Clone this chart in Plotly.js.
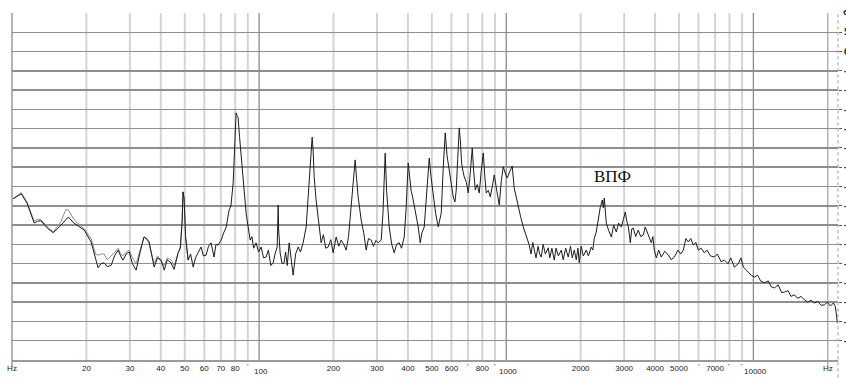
<!DOCTYPE html>
<html>
<head>
<meta charset="utf-8">
<script src="https://cdn.plot.ly/plotly-3.0.1.min.js"></script>
<style>html,body{margin:0;padding:0;background:#fff;}#chart{width:846px;height:378px;}</style>
</head>
<body>
<div id="chart"></div>
<script>
// Frequency (Hz) of the black measurement trace
const freqBlack = [
10.1,10.5,10.9,11.5,12.3,12.7,13.1,13.9,14.7,15.8,16.9,17.8,18.7,19.6,20.9,22.3,22.9,23.6,24.3,25.2,
26.0,26.9,27.5,28.1,29.0,29.8,30.7,31.8,33.0,34.2,35.0,35.9,36.7,37.6,38.8,40.1,41.3,42.5,44.0,45.3,
47.0,48.0,48.8,49.2,49.7,50.4,51.6,52.8,54.1,55.3,56.6,58.2,59.5,61.0,62.4,63.9,65.7,66.9,68.2,70.2,
71.9,73.6,75.6,76.9,78.5,79.6,80.7,81.5,82.2,83.3,84.6,85.8,87.0,88.6,90.3,92.0,93.5,95.0,97.2,99.5,
101.9,104.2,106.7,109.0,111.5,114.0,116.0,118.3,119.0,119.4,119.9,121.6,123.8,126.2,128.0,130.0,132.3,134.5,137.3,140.5,
143.9,147.0,150.7,155.0,157.9,161.0,163.9,165.5,167.0,170.0,173.4,178.2,182.0,186.0,190.3,195.0,199.3,202.0,205.0,210.0,
214.8,220.0,225.0,230.0,235.8,240.0,244.7,248.0,251.6,258.8,265.0,271.2,277.0,284.1,290.0,297.0,303.3,311.9,317.0,323.7,
328.0,336.0,344.0,352.1,360.0,368.8,377.0,386.4,393.0,401.1,406.0,412.0,420.2,430.0,440.3,448.6,456.0,465.6,476.0,488.0,
496.0,506.5,518.0,530.6,545.6,556.0,566.3,576.0,587.9,598.0,610.2,620.0,627.5,636.0,645.2,652.0,660.0,668.0,676.1,690.0,
702.0,714.0,728.6,738.0,749.3,763.0,777.8,792.0,807.4,818.0,829.9,846.0,861.5,878.0,894.2,915.0,936.9,955.0,972.5,990.0,
1009,1035,1057,1077,1098,1119,1145,1172,1205,1239,1260,1280,1299,1320,1345,1365,1386,1410,1440,1479,
1500,1530,1564,1590,1625,1670,1700,1740,1782,1820,1850,1885,1920,1950,1975,2010,2050,2108,2150,2208,
2240,2271,2310,2357,2400,2447,2470,2493,2515,2540,2600,2662,2720,2788,2850,2921,2980,3032,3075,3118,
3150,3177,3220,3267,3340,3422,3500,3585,3650,3723,3800,3864,3920,3973,4050,4140,4242,4380,4529,4650,
4789,4950,5080,5208,5330,5456,5580,5715,5850,5987,6150,6331,6500,6700,6952,7150,7400,7633,7900,8100,
8379,8700,8900,9111,9300,9545,9800,10093,10400,10700,11080,11500,11800,12165,12600,13000,13355,13800,14200,14659,
15100,15600,16094,16600,17100,17660,18200,18800,19384,19900,20500,21085,21478,21882
];
// Level (dB) of the black measurement trace
const levelBlack = [
-38.2,-37.5,-36.9,-39.3,-44.5,-44.0,-43.9,-45.8,-47.0,-45.0,-42.9,-44.5,-45.5,-46.3,-49.4,-56.1,-55.0,-54.8,-55.8,-55.4,
-53.0,-51.5,-53.0,-54.1,-52.5,-52.0,-55.0,-56.7,-52.0,-48.1,-48.5,-49.4,-52.5,-55.9,-53.5,-54.1,-56.7,-54.0,-54.8,-56.5,
-52.2,-51.0,-44.0,-36.4,-38.0,-48.0,-54.1,-52.5,-55.9,-53.5,-52.2,-50.7,-53.0,-52.8,-50.5,-49.6,-53.3,-50.0,-50.2,-48.9,
-47.0,-45.5,-41.1,-40.0,-34.1,-25.0,-15.9,-16.8,-17.0,-22.0,-27.3,-33.0,-37.7,-42.0,-45.5,-48.9,-48.0,-51.0,-49.6,-52.0,
-50.7,-53.5,-53.3,-51.5,-55.5,-54.8,-52.5,-50.7,-44.0,-39.8,-46.0,-52.2,-55.0,-54.8,-52.0,-55.5,-49.6,-53.0,-58.0,-52.5,
-50.7,-52.0,-49.6,-45.5,-38.5,-29.0,-22.2,-26.0,-32.5,-38.5,-42.9,-49.6,-47.5,-51.0,-50.7,-48.8,-52.2,-50.0,-48.1,-50.5,
-48.9,-50.0,-51.5,-48.0,-40.3,-35.0,-28.1,-33.0,-37.7,-43.7,-47.0,-51.5,-48.5,-48.9,-50.5,-49.0,-49.6,-48.9,-42.0,-26.3,
-36.0,-45.5,-50.0,-52.2,-50.0,-49.6,-51.0,-48.1,-41.0,-28.9,-31.5,-36.0,-38.5,-42.0,-45.5,-49.6,-47.0,-45.5,-36.0,-27.6,
-32.5,-37.7,-42.0,-45.5,-41.9,-30.0,-21.1,-27.0,-30.7,-35.0,-37.7,-39.0,-35.9,-28.0,-19.8,-23.0,-29.0,-31.0,-32.5,-34.0,
-36.7,-32.0,-25.0,-31.0,-35.9,-34.5,-36.7,-31.0,-26.3,-32.0,-36.7,-36.0,-37.7,-35.0,-32.0,-36.0,-39.8,-33.5,-29.9,-31.5,
-32.8,-31.0,-29.7,-35.4,-38.0,-40.3,-43.0,-45.5,-48.0,-50.2,-52.5,-49.5,-51.5,-53.5,-50.5,-52.5,-53.3,-50.0,-52.5,-50.9,
-53.5,-51.0,-54.1,-51.0,-53.0,-51.5,-54.0,-51.0,-53.3,-50.5,-53.5,-51.5,-54.0,-51.0,-54.8,-50.5,-53.0,-51.5,-53.0,-50.7,
-51.5,-48.4,-47.0,-43.7,-40.5,-38.5,-40.5,-38.0,-41.0,-44.5,-46.5,-48.1,-45.0,-46.8,-44.5,-45.5,-43.5,-41.6,-44.0,-45.5,
-47.5,-49.6,-46.0,-45.8,-48.0,-46.3,-48.0,-47.6,-45.5,-46.8,-48.5,-49.6,-48.0,-51.5,-53.5,-51.5,-53.3,-51.8,-52.8,-54.0,
-53.3,-51.5,-52.5,-51.5,-48.5,-49.4,-48.5,-50.2,-49.5,-51.5,-51.0,-52.2,-51.5,-53.0,-53.3,-52.5,-54.5,-54.1,-55.0,-53.5,
-55.9,-55.0,-53.5,-55.9,-56.5,-57.2,-58.0,-58.5,-58.0,-59.5,-60.0,-59.5,-61.0,-61.3,-60.5,-62.5,-62.4,-62.0,-63.5,-63.1,
-64.0,-63.5,-64.4,-65.0,-64.5,-65.2,-64.8,-65.8,-65.7,-65.0,-66.0,-65.2,-66.2,-70.4
];
// Frequency (Hz) of the grey trace (differs from black only at the low end)
const freqGrey = [
10.1,10.5,10.9,11.5,12.3,12.7,13.1,13.9,14.7,15.8,16.5,16.9,17.8,18.7,19.6,20.9,21.8,22.3,23.0,23.6,
24.3,25.2,26.0,26.9,27.5,28.1,29.0,29.8,30.7,31.8,33.0,34.2,35.0,35.9,36.7,37.6,38.8,40.1,41.3,42.5,
44.0,45.3,47.0,48.0,48.8,49.2,49.7,50.4,51.6
];
const levelGrey = [
-38.2,-37.3,-36.6,-39.0,-44.0,-43.5,-43.6,-45.5,-46.8,-44.0,-41.0,-41.1,-43.5,-44.9,-46.0,-48.5,-52.5,-52.8,-52.5,-52.5,
-54.0,-53.0,-52.0,-51.0,-52.5,-53.0,-52.0,-51.5,-53.5,-55.0,-51.5,-48.1,-48.5,-50.0,-52.5,-55.0,-53.0,-54.5,-55.5,-53.5,
-54.0,-55.5,-52.0,-50.5,-44.0,-36.4,-38.0,-48.0,-54.1
];
// Axis ticks
const xTickVals = [10,20,30,40,50,60,70,80,200,300,400,500,600,800,2000,3000,4000,5000,7000,20000];
const xTickText = ["Hz","20","30","40","50","60","70","80","200","300","400","500","600","800","2000","3000","4000","5000","7000","Hz"];
const xMarkVals = [90,700,900,6000,8000,9000];          // unlabelled grid positions (tiny mark only)
const decadeLines = [100,1000,10000];
const decadeText = ["100","1000","10000"];
const yTickVals = [-75,-70,-65,-60,-55,-50,-45,-40,-35,-30,-25,-20,-15,-10,-5,0,5];
const yTickText = yTickVals.map(v => String(v));
const noteText = "ВПФ";
const noteFreq = 2680, noteLevel = -32.3;

const lightGrid = xTickVals.concat(xMarkVals).filter(f => f > 10 && f < 20000);

const traces = [
  {x: freqGrey, y: levelGrey, type: 'scatter', mode: 'lines',
   line: {color: '#8c8c8c', width: 1}, hoverinfo: 'skip'},
  {x: freqBlack, y: levelBlack, type: 'scatter', mode: 'lines',
   line: {color: '#1c1c1c', width: 1}, hoverinfo: 'skip'}
];

// Shapes on a log axis take data (Hz) values here
const shapes = lightGrid.map(f => ({
  type: 'line', xref: 'x', yref: 'paper', x0: f, x1: f, y0: 0, y1: 1,
  line: {color: '#d4d4d4', width: 2}, layer: 'below'
}));
decadeLines.forEach(f => shapes.push({
  type: 'line', xref: 'x', yref: 'paper', x0: f, x1: f, y0: 0, y1: 1,
  line: {color: '#8a8a8a', width: 1.3}, layer: 'below'
}));
shapes.push({type: 'line', xref: 'x', yref: 'paper', x0: 20000, x1: 20000, y0: -0.02, y1: 1,
  line: {color: '#a8a8a8', width: 1.3}, layer: 'below'});
shapes.push({type: 'line', xref: 'paper', yref: 'paper', x0: 0, x1: 0, y0: -0.02, y1: 1,
  line: {color: '#8a8a8a', width: 1.3}, layer: 'below'});
shapes.push({type: 'line', xref: 'paper', yref: 'paper', x0: 1, x1: 1, y0: -0.05, y1: 1,
  line: {color: '#9a9a9a', width: 1, dash: 'dot'}, layer: 'above'});

const tickFont = {family: 'Liberation Sans', size: 8, color: '#1a1a1a'};
const annotations = [
  {text: noteText, x: Math.log10(noteFreq), y: noteLevel, xref: 'x', yref: 'y',
   showarrow: false, font: {family: 'Liberation Serif', size: 17, color: '#111111'}},
  {text: 'dB', xref: 'paper', yref: 'paper', x: 1, y: 1, xanchor: 'left', yanchor: 'top',
   xshift: 3, yshift: 8, showarrow: false,
   font: {family: 'DejaVu Sans', size: 9, color: '#333333', weight: 'bold'}}
];
decadeLines.forEach((f, i) => annotations.push({
  text: decadeText[i], x: Math.log10(f), xref: 'x', yref: 'paper', y: 0, yanchor: 'middle',
  yshift: -11.5, xshift: 2, showarrow: false, font: tickFont
}));
xMarkVals.forEach(f => annotations.push({
  text: "'", x: Math.log10(f), xref: 'x', yref: 'paper', y: 0, yanchor: 'middle',
  yshift: -6, showarrow: false, font: tickFont
}));

const layout = {
  width: 846, height: 378,
  margin: {l: 12, r: 8, t: 13, b: 18, pad: 0},
  paper_bgcolor: '#ffffff', plot_bgcolor: '#ffffff',
  showlegend: false,
  xaxis: {
    type: 'log', range: [1, Math.log10(22000)],
    tickmode: 'array', tickvals: xTickVals, ticktext: xTickText,
    showgrid: false,
    showline: true, linecolor: '#9a9a9a', linewidth: 1.5,
    ticks: '', zeroline: false, fixedrange: true,
    tickfont: tickFont, tickangle: 0
  },
  yaxis: {
    range: [-80, 10], side: 'right',
    tickmode: 'array', tickvals: yTickVals, ticktext: yTickText,
    showgrid: true, gridcolor: '#8e8e8e', gridwidth: 1.5,
    ticks: 'outside', ticklen: 3, tickcolor: '#555555', tickwidth: 1,
    showline: false, zeroline: false, fixedrange: true,
    tickfont: {family: 'DejaVu Sans', size: 9, color: '#333333', weight: 'bold'}
  },
  shapes: shapes,
  annotations: annotations
};

Plotly.newPlot('chart', traces, layout, {staticPlot: true, displayModeBar: false});
</script>
</body>
</html>
